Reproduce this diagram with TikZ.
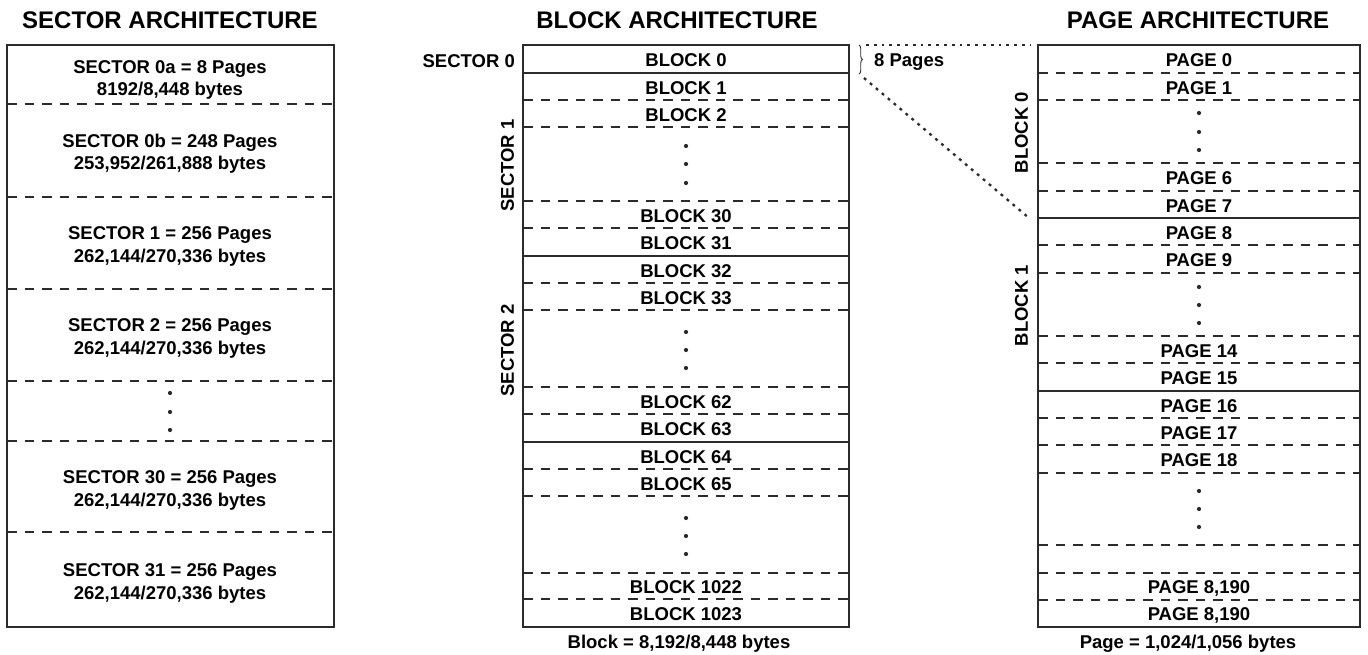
\documentclass[tikz,border=0pt]{standalone}
\usepackage{fontspec}
\setmainfont{Liberation Sans}
\usetikzlibrary{decorations.pathreplacing}
\definecolor{linec}{HTML}{2B2B2B}
\begin{document}
\begin{tikzpicture}[x=1pt,y=-1pt,
  outerbox/.style={draw=linec,line width=2.8pt,inner sep=0pt,outer sep=0pt,anchor=north west},
  solidline/.style={draw=linec,line width=2.3pt},
  dl/.style={draw=linec,line width=1.3pt,dash pattern=on 9.5pt off 8pt},
  txt/.style={font=\bfseries\fontsize{18.5}{22.5}\selectfont,align=center,inner sep=0pt,yshift=-1.5pt},
  ttl/.style={font=\bfseries\fontsize{24}{27}\selectfont,inner sep=0pt},
  vdot/.style={circle,fill=linec,inner sep=0pt,minimum size=4.2pt},
  dotted conn/.style={draw=linec,line width=2.3pt,dash pattern=on 2.8pt off 5pt}]
\useasboundingbox (0,0) rectangle (1368,654);
% ---------- titles
\node[ttl] (t1) at (170,20) {SECTOR ARCHITECTURE};
\node[ttl] (t2) at (677,20) {BLOCK ARCHITECTURE};
\node[ttl] (t3) at (1198,20) {PAGE ARCHITECTURE};
% ---------- sector column
\node[outerbox,minimum width=327pt,minimum height=582pt] (sbox) at (7,45) {};
\foreach \y in {104,197,289,381,441,532} \draw[dl] (7,\y) -- (334,\y);
\node[txt] (s0a) at (170,78.5) {SECTOR 0a = 8 Pages\\8192/8,448 bytes};
\node[txt] (s0b) at (170,152) {SECTOR 0b = 248 Pages\\253,952/261,888 bytes};
\node[txt] (s1) at (170,245) {SECTOR 1 = 256 Pages\\262,144/270,336 bytes};
\node[txt] (s2) at (170,337) {SECTOR 2 = 256 Pages\\262,144/270,336 bytes};
\node[txt] (s30) at (170,489) {SECTOR 30 = 256 Pages\\262,144/270,336 bytes};
\node[txt] (s31) at (170,582) {SECTOR 31 = 256 Pages\\262,144/270,336 bytes};
\foreach \y [count=\i] in {393,412,430} \node[vdot] (sd\i) at (170,\y) {};
% ---------- block column
\node[outerbox,minimum width=326pt,minimum height=582pt] (bbox) at (523,45) {};
\foreach \y in {73,256,442} \draw[solidline] (523,\y) -- (849,\y);
\foreach \y in {100,127,201,228,283,310,387,414,469,496,573,599} \draw[dl] (523,\y) -- (849,\y);
\foreach \n/\y in {0/59,1/86.5,2/113.5,30/214.5,31/242,32/269.5,33/296.5,62/400.5,63/428,64/455.5,65/482.5,1022/586,1023/613}
  \node[txt] (b\n) at (686,\y) {BLOCK \n};
\foreach \y [count=\i] in {146,164,183,332,350,368,518,536,554} \node[vdot] (bd\i) at (686,\y) {};
\node[txt,anchor=east] (lsec0) at (515,60) {SECTOR 0};
\node[txt,rotate=90,yshift=1.5pt] (lsec1) at (509,164) {SECTOR 1};
\node[txt,rotate=90,yshift=1.5pt] (lsec2) at (509,349) {SECTOR 2};
\node[txt] (bcap) at (679,642) {Block = 8,192/8,448 bytes};
% ---------- page column
\node[outerbox,minimum width=322pt,minimum height=582pt] (pbox) at (1038,45) {};
\foreach \y in {218,391} \draw[solidline] (1038,\y) -- (1360,\y);
\foreach \y in {73,100,163,191,245,273,336,363,418,445,473,545,573,600} \draw[dl] (1038,\y) -- (1360,\y);
\foreach \n/\l/\y in {p0/0/59,p1/1/86.5,p6/6/177,p7/7/204.5,p8/8/231.5,p9/9/259,p14/14/349.5,p15/15/377,p16/16/404.5,p17/17/431.5,p18/18/459,pa/{8,190}/586.5,pb/{8,190}/613.5}
  \node[txt] (\n) at (1199,\y) {PAGE \l};
\foreach \y [count=\i] in {113,132,150,287,305,323,491,509,527} \node[vdot] (pd\i) at (1199,\y) {};
\node[txt,rotate=90,yshift=1.5pt] (lblk0) at (1023,131) {BLOCK 0};
\node[txt,rotate=90,yshift=1.5pt] (lblk1) at (1023,304) {BLOCK 1};
\node[txt] (pcap) at (1188,642) {Page = 1,024/1,056 bytes};
% ---------- brace and zoom connectors
\draw[linec,line width=0.9pt,decorate,decoration={brace,amplitude=3.5pt}] (859,45) -- (859,74);
\node[txt,anchor=west] (eightp) at (874,60) {8 Pages};
\coordinate (bt) at (866,45);
\coordinate (bb) at (864,78);
\coordinate (pt) at (1030,45);
\coordinate (pm) at (1029,218);
\draw[dotted conn] (bt) -- (pt);
\draw[dotted conn] (bb) -- (pm);
\end{tikzpicture}
\end{document}
